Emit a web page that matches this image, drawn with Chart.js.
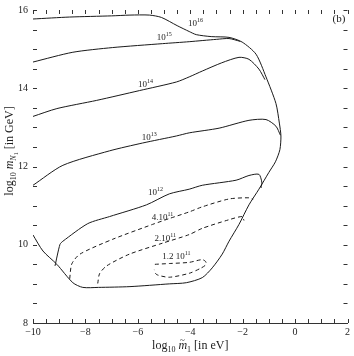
<!DOCTYPE html>
<html lang="en">
<head>
<meta charset="UTF-8">
<title>Contours (b)</title>
<script src="https://cdn.jsdelivr.net/npm/chart.js"></script>
<style>
    body {
        margin: 0;
        padding: 0;
        background: white;
    }
    #wrap {
        width: 354px;
        height: 356px;
    }
</style>
</head>
<body>
<div id="wrap"><canvas id="myChart"></canvas></div>
<script>
    // axis ranges and tick labels
    const xTickLabels = [-10, -8, -6, -4, -2, 0, 2];
    const yTickLabels = [8, 10, 12, 14, 16];
    const minorStep = 0.5;

    // contour curves, [log10 m1~ (eV), log10 M_N1 (GeV)]
    // 10^16 also carries the outer boundary of the allowed region
    const curve16 = [[-10, 15.77], [-8.6, 15.82], [-7, 15.85], [-6.3, 15.87], [-5.56, 15.87], [-5.1, 15.81],
        [-4.5, 15.6], [-4.04, 15.45], [-3.77, 15.37], [-3.2, 15.32], [-2.52, 15.3], [-2.02, 15.18],
        [-1.49, 14.87], [-1.11, 14.29], [-0.73, 13.61], [-0.6, 13.11], [-0.54, 12.78], [-0.58, 12.43],
        [-0.75, 12.12], [-1.0, 11.85], [-1.38, 11.42], [-1.76, 11.02], [-2.14, 10.52], [-2.52, 10.09],
        [-2.78, 9.76], [-3.16, 9.41], [-3.54, 9.16], [-4.15, 9.03], [-4.8, 9.0], [-6.3, 8.93],
        [-7.5, 8.91], [-8.1, 8.91], [-8.48, 9.03], [-9.09, 9.5], [-9.62, 9.84], [-10, 10.25]];
    const curve15 = [[-10, 14.67], [-8.48, 14.92], [-6.96, 15.04], [-5.06, 15.14], [-4.04, 15.19],
        [-3.0, 15.25], [-2.52, 15.27], [-2.1, 15.2]];
    const curve14 = [[-10, 13.28], [-9.09, 13.48], [-7.57, 13.69], [-5.94, 13.94], [-4.53, 14.16],
        [-4.04, 14.29], [-3.54, 14.44], [-2.8, 14.65], [-2.14, 14.79], [-1.76, 14.74], [-1.38, 14.49],
        [-1.15, 14.22]];
    const curve13 = [[-10, 11.52], [-8.86, 12.03], [-7.08, 12.4], [-5.82, 12.6], [-4.53, 12.78],
        [-4.04, 12.86], [-2.9, 12.98], [-1.76, 13.18], [-1.11, 13.2], [-0.73, 13.03], [-0.56, 12.8]];
    const curve12 = [[-9.16, 9.46], [-8.97, 10.01], [-8.86, 10.09], [-7.91, 10.54], [-7.08, 10.72],
        [-5.67, 11.02], [-4.8, 11.3], [-4.04, 11.42], [-3.54, 11.52], [-2.25, 11.65], [-1.76, 11.77],
        [-1.38, 11.8], [-1.27, 11.6], [-1.3, 11.45]];
    const curve4e11 = [[-8.6, 9.13], [-8.52, 9.51], [-8.21, 9.76], [-6.96, 10.14], [-5.44, 10.52],
        [-4.8, 10.67], [-4.04, 10.84], [-3.54, 10.97], [-2.52, 11.17], [-1.76, 11.2], [-1.6, 11.16]];
    const curve2e11 = [[-7.53, 9.01], [-7.46, 9.26], [-7.19, 9.46], [-6.32, 9.76], [-5.06, 10.04],
        [-4.04, 10.26], [-3.54, 10.42], [-2.52, 10.64], [-2.02, 10.72], [-1.95, 10.62]];
    const curve12e10 = [[-5.35, 9.5], [-4.8, 9.52], [-4.04, 9.55], [-3.54, 9.62], [-3.4, 9.56],
        [-3.42, 9.48], [-3.6, 9.4], [-4.04, 9.27], [-4.8, 9.17], [-5.29, 9.24], [-5.37, 9.36]];

    // contour labels: mantissa, exponent, and where they sit (data coords)
    const labelBase = ['10', '10', '10', '10', '10', '4.10', '2.10', '1.2 10'];
    const labelExp = ['16', '15', '14', '13', '12', '11', '11', '11'];
    const labelX = [-3.8, -4.99, -5.71, -5.56, -5.33, -5.06, -4.95, -4.53];
    const labelY = [15.67, 15.3, 14.11, 12.75, 11.35, 10.72, 10.16, 9.71];

    const serif = "'Liberation Serif', 'DejaVu Serif', serif";
    const ink = '#1a1a1a';

    function pts(arr) {
        return arr.map(p => ({ x: p[0], y: p[1] }));
    }

    function line(data, dashed) {
        return {
            data: pts(data),
            showLine: true,
            borderColor: ink,
            borderWidth: 1,
            borderDash: dashed ? [4, 3] : [],
            pointRadius: 0,
            tension: 0.25,
            fill: false
        };
    }

    // draw text made of pieces (sub/superscripts), centred on x, baseline y
    function drawRich(ctx, parts, x, y) {
        let w = 0;
        parts.forEach(p => {
            ctx.font = (p.it ? 'italic ' : '') + p.s + 'px ' + serif;
            p.w = ctx.measureText(p.t).width;
            w += p.w;
        });
        let cx = x - w / 2;
        parts.forEach(p => {
            ctx.font = (p.it ? 'italic ' : '') + p.s + 'px ' + serif;
            ctx.fillText(p.t, cx, y + (p.dy || 0));
            if (p.tilde) {
                ctx.font = '9px ' + serif;
                ctx.fillText('~', cx + 1.5, y - 6);
            }
            cx += p.w;
        });
    }

    const extras = {
        id: 'extras',
        afterDraw(chart) {
            const ctx = chart.ctx;
            const xs = chart.scales.x, ys = chart.scales.y, a = chart.chartArea;
            ctx.save();
            ctx.strokeStyle = '#333';
            ctx.lineWidth = 1;
            ctx.beginPath();
            // small inward ticks on all four sides
            for (let v = xs.min; v <= xs.max + 1e-9; v += minorStep) {
                const px = Math.round(xs.getPixelForValue(v)) + 0.5;
                ctx.moveTo(px, a.bottom);
                ctx.lineTo(px, a.bottom - 4);
                ctx.moveTo(px, a.top);
                ctx.lineTo(px, a.top + 4);
            }
            for (let v = ys.min; v <= ys.max + 1e-9; v += minorStep) {
                const py = Math.round(ys.getPixelForValue(v)) + 0.5;
                ctx.moveTo(a.left, py);
                ctx.lineTo(a.left + 4, py);
                ctx.moveTo(a.right, py);
                ctx.lineTo(a.right - 4, py);
            }
            ctx.stroke();

            ctx.fillStyle = '#222';
            ctx.textBaseline = 'alphabetic';
            ctx.textAlign = 'left';
            // contour labels
            for (let i = 0; i < labelBase.length; i++) {
                const px = xs.getPixelForValue(labelX[i]);
                const py = ys.getPixelForValue(labelY[i]) + 3;
                drawRich(ctx, [{ t: labelBase[i], s: 9 }, { t: labelExp[i], s: 6, dy: -4 }], px, py);
            }

            // axis titles
            drawRich(ctx, [{ t: 'log', s: 12 }, { t: '10', s: 8, dy: 3 }, { t: ' ', s: 12 },
                { t: 'm', s: 12, it: true, tilde: true }, { t: '1', s: 8, dy: 3 }, { t: ' [in eV]', s: 12 }],
                (a.left + a.right) / 2, 349);
            ctx.save();
            ctx.translate(13, 151);
            ctx.rotate(-Math.PI / 2);
            drawRich(ctx, [{ t: 'log', s: 12 }, { t: '10', s: 8, dy: 3 }, { t: ' ', s: 12 },
                { t: 'm', s: 12, it: true }, { t: 'N', s: 8, it: true, dy: 3 }, { t: '1', s: 6, dy: 5 },
                { t: ' [in GeV]', s: 12 }], 0, 0);
            ctx.restore();

            // panel tag
            ctx.font = '11px ' + serif;
            ctx.textAlign = 'center';
            ctx.fillText('(b)', 339, 22);
            ctx.restore();
        }
    };

    const ctx = document.getElementById('myChart').getContext('2d');
    const myChart = new Chart(ctx, {
        type: 'scatter',
        data: {
            datasets: [
                line(curve16), line(curve15), line(curve14), line(curve13), line(curve12),
                line(curve4e11, true), line(curve2e11, true), line(curve12e10, true)
            ]
        },
        options: {
            responsive: true,
            maintainAspectRatio: false,
            animation: false,
            devicePixelRatio: 1,
            layout: { padding: { top: 5, right: 5, left: 0, bottom: 0 } },
            plugins: {
                legend: { display: false },
                tooltip: { enabled: false }
            },
            scales: {
                x: {
                    type: 'linear',
                    min: xTickLabels[0],
                    max: xTickLabels[xTickLabels.length - 1],
                    afterFit: s => { s.height = 33; },
                    afterBuildTicks: s => { s.ticks = xTickLabels.map(v => ({ value: v })); },
                    grid: { display: false, drawTicks: false },
                    border: { display: true, color: '#333', width: 1 },
                    ticks: {
                        padding: 4,
                        color: '#222',
                        font: { family: serif, size: 10, lineHeight: 1 },
                        maxRotation: 0,
                        callback: v => (v < 0 ? '\u2212' : '') + Math.abs(v)
                    }
                },
                y: {
                    type: 'linear',
                    min: yTickLabels[0],
                    max: yTickLabels[yTickLabels.length - 1],
                    afterFit: s => { s.width = 33; },
                    afterBuildTicks: s => { s.ticks = yTickLabels.map(v => ({ value: v })); },
                    grid: { display: false, drawTicks: false },
                    border: { display: false },
                    ticks: {
                        padding: 5,
                        color: '#222',
                        font: { family: serif, size: 10, lineHeight: 1 },
                        callback: v => String(v)
                    }
                }
            }
        },
        plugins: [extras]
    });
</script>
</body>
</html>
